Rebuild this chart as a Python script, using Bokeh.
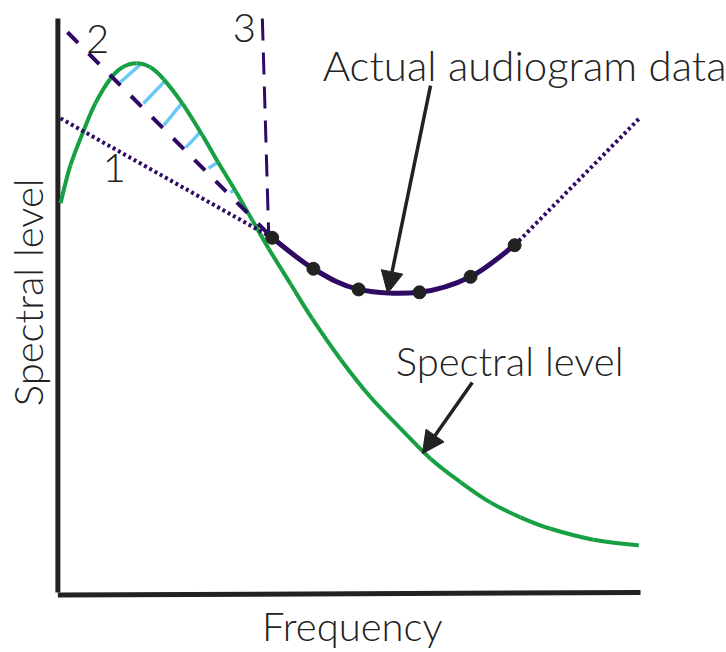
import math
from bokeh.plotting import figure
from bokeh.models import Label, Arrow, NormalHead
from bokeh.embed import file_html
from bokeh.resources import INLINE

# --- schematic data (frequency and level in arbitrary units, 0-100) ---
# spectral level curve
spec_freq = [0.0, 1.7, 4.0, 6.0, 8.6, 10.7, 13.1, 15.5, 17.8, 21.0, 24.5, 27.2,
             30.2, 33.1, 35.9, 39.7, 43.4, 48.3, 53.4, 58.6, 63.8, 69.0, 74.1,
             79.3, 84.5, 91.9, 99.7]
spec_level = [67.8, 74.4, 80.5, 85.2, 89.5, 91.5, 92.2, 91.5, 89.4, 85.2, 79.6,
              74.9, 69.9, 64.8, 59.9, 53.7, 47.7, 40.6, 34.1, 28.6, 23.3, 19.2,
              15.7, 13.1, 11.1, 9.2, 8.2]

# measured audiogram points
aud_freq = [36.5, 43.6, 51.4, 61.9, 70.7, 78.3]
aud_level = [61.8, 56.4, 52.8, 52.3, 55.0, 60.5]

# extrapolation lines (start / end)
line1_x = [0.0, 36.5]
line1_y = [82.6, 61.8]
line2_x = [1.2, 36.5]
line2_y = [97.6, 61.8]
line3_x = [34.8, 35.9]
line3_y = [100.0, 62.2]
ext_x = [78.3, 100.0]
ext_y = [60.5, 82.8]

# shaded gap between line 2 and spectral curve
hatch_x0 = [10.3, 14.3, 17.8, 21.6, 25.5, 29.3]
hatch_y0 = [88.9, 85.2, 81.4, 77.5, 73.9, 69.7]
hatch_x1 = [13.8, 17.9, 20.9, 24.0, 27.1, 29.8]
hatch_y1 = [92.0, 89.0, 85.2, 80.1, 74.9, 70.0]

PURPLE = "#2f0a64"
GREEN = "#17a043"
LIGHTBLUE = "#6cc9f5"
INK = "#222222"
FONT = "Lato Light, Lato"
FS = "40px"

W, H = 726, 652
X0_PX, X_SCALE = 60, 5.8      # pixel of freq 0, pixels per unit
Y0_PX, Y_SCALE = 592, 5.74    # pixel of level 0, pixels per unit

p = figure(width=W, height=H,
           x_range=(-X0_PX / X_SCALE, (W - X0_PX) / X_SCALE),
           y_range=((Y0_PX - H) / Y_SCALE, Y0_PX / Y_SCALE),
           output_backend="svg", toolbar_location=None,
           x_axis_location=None, y_axis_location=None, min_border=0)
p.grid.visible = False
p.outline_line_color = None
p.background_fill_color = "white"
p.border_fill_color = "white"


def smooth(xs, ys, **kw):
    """Draw a smooth curve through the given points (Catmull-Rom as cubic Beziers)."""
    n = len(xs)
    pts = list(zip(xs, ys))
    d = dict(x0=[], y0=[], x1=[], y1=[], cx0=[], cy0=[], cx1=[], cy1=[])
    for i in range(n - 1):
        p0 = pts[max(i - 1, 0)]
        p1 = pts[i]
        p2 = pts[i + 1]
        p3 = pts[min(i + 2, n - 1)]
        d["x0"].append(p1[0]); d["y0"].append(p1[1])
        d["x1"].append(p2[0]); d["y1"].append(p2[1])
        d["cx0"].append(p1[0] + (p2[0] - p0[0]) / 6)
        d["cy0"].append(p1[1] + (p2[1] - p0[1]) / 6)
        d["cx1"].append(p2[0] - (p3[0] - p1[0]) / 6)
        d["cy1"].append(p2[1] - (p3[1] - p1[1]) / 6)
    p.bezier(x0=d["x0"], y0=d["y0"], x1=d["x1"], y1=d["y1"],
             cx0=d["cx0"], cy0=d["cy0"], cx1=d["cx1"], cy1=d["cy1"], **kw)


# axis lines
p.segment([-0.45, -0.45], [0.0, -0.45], [-0.45, 100.0], [100.0, 0.0],
          line_color=INK, line_width=5)

# light-blue hatching
p.segment(hatch_x0, hatch_y0, hatch_x1, hatch_y1, line_color=LIGHTBLUE, line_width=3.5)

# spectral level curve
smooth(spec_freq, spec_level, line_color=GREEN, line_width=4)

# extrapolations 1, 2, 3 and high-frequency extension
p.line(line1_x, line1_y, line_color=PURPLE, line_width=4, line_dash="3 3")
p.line(line2_x, line2_y, line_color=PURPLE, line_width=4, line_dash="15 15")
p.line(line3_x, line3_y, line_color=PURPLE, line_width=3, line_dash="22 12")
p.line(ext_x, ext_y, line_color=PURPLE, line_width=4, line_dash="3 3")

# audiogram curve and points
smooth(aud_freq, aud_level, line_color=PURPLE, line_width=5)
p.scatter(aud_freq, aud_level, size=13, fill_color=INK, line_color=INK)


# annotations
def label(x, y, text, align="left", angle=0.0, baseline="alphabetic", size=FS):
    p.add_layout(Label(x=x, y=y, text=text, text_font=FONT, text_font_size=size,
                       text_color=INK, text_align=align, text_baseline=baseline,
                       angle=angle))


label(9.3, 74.0, "1", "center")
label(6.4, 96.4, "2", "center")
label(31.7, 98.4, "3", "center")
label(45.2, 91.9, "Actual audiogram data", size="42px")
label(57.8, 40.3, "Spectral level")
label(50.3, -5.9, "Frequency", "center")
label(-5.6, 52.3, "Spectral level", "center", angle=math.pi / 2, baseline="middle")

for xs, ys, xe, ye in ((63.8, 88.3, 56.4, 52.1), (71.0, 36.6, 62.4, 24.2)):
    p.add_layout(Arrow(x_start=xs, y_start=ys, x_end=xe, y_end=ye,
                       line_color=INK, line_width=3.5,
                       end=NormalHead(size=22, fill_color=INK, line_color=INK)))

open("out.html", "w").write(file_html(p, INLINE))
